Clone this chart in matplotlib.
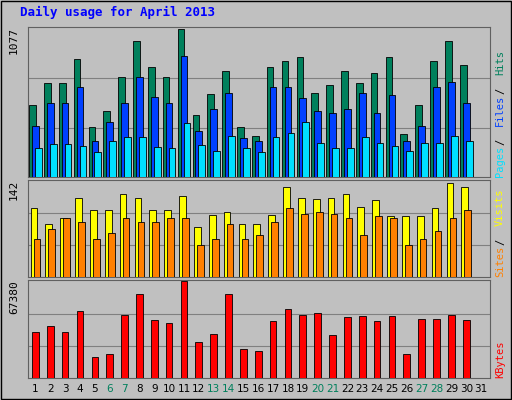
import matplotlib.pyplot as plt
import numpy as np

days = list(range(1, 32))
data_days = np.arange(1, 31)
hits = [524, 684, 684, 859, 364, 480, 728, 990, 801, 728, 1077, 451, 604, 771, 364, 298, 801, 844, 873, 611, 670, 771, 684, 757, 873, 313, 524, 844, 990, 815]
files = [371, 538, 538, 655, 262, 400, 538, 728, 582, 538, 880, 335, 495, 611, 284, 262, 655, 655, 575, 480, 466, 495, 611, 466, 597, 262, 371, 655, 691, 538]
pages = [211, 240, 240, 226, 182, 262, 291, 291, 218, 211, 393, 233, 189, 298, 211, 182, 291, 320, 400, 248, 211, 211, 291, 248, 226, 189, 248, 248, 298, 262]
visits = [102, 79, 88, 118, 100, 100, 124, 118, 100, 100, 121, 74, 92, 97, 79, 79, 92, 133, 118, 116, 118, 124, 104, 115, 91, 91, 91, 102, 139, 133]
sites = [57, 71, 88, 82, 57, 66, 88, 82, 82, 88, 88, 48, 57, 79, 56, 63, 82, 103, 94, 97, 94, 88, 63, 91, 88, 48, 57, 69, 88, 100]
kbytes = [32230, 36620, 32230, 46880, 14650, 16850, 43950, 58600, 40280, 38090, 67380, 24910, 30770, 58600, 20510, 19040, 39550, 48340, 43950, 45410, 30040, 42480, 43220, 39550, 43220, 16850, 41020, 41020, 43950, 40280]
max_top, max_mid, max_bot = 1077, 142, 67380

W, H = 512, 400
fig = plt.figure(figsize=(5.12, 4.0), dpi=100, facecolor='#C0C0C0')
fig.patches.append(plt.Rectangle((1/W, 1/H), 1-2/W, 1-2/H, transform=fig.transFigure,
                                 fill=False, edgecolor='black', linewidth=1))
fig.text(20/W, 1-12/H, 'Daily usage for April 2013', color='#0000FF', fontsize=9,
         fontweight='bold', family='DejaVu Sans Mono', va='center')

def panel(top, bottom, maxv):
    ax = fig.add_axes([28/W, 1-bottom/H, 462/W, (bottom-top)/H])
    ax.set_facecolor('#C0C0C0')
    ax.set_xlim(0.5, 31.6)
    ax.set_ylim(0, maxv*1.015)
    for f in (1/3, 2/3):
        ax.axhline(maxv*f, color='#808080', linewidth=0.8, zorder=0)
    ax.set_xticks([]); ax.set_yticks([])
    for s in ax.spines.values():
        s.set_color('#606060')
    ax.text(-0.02, 1.0, str(maxv), transform=ax.transAxes, rotation=90,
            ha='right', va='top', fontsize=8, family='DejaVu Sans Mono')
    return ax

def bars(ax, off, vals, color):
    ax.bar(data_days + off, vals, width=0.45, color=color, edgecolor='black',
           linewidth=0.6, zorder=3)

ax1 = panel(27, 177, max_top)
bars(ax1, -0.2, hits, '#00805C')
bars(ax1, 0.0, files, '#0040FF')
bars(ax1, 0.2, pages, '#00E0FF')
ax2 = panel(180, 277, max_mid)
bars(ax2, -0.1, visits, '#FFFF00')
bars(ax2, 0.1, sites, '#FF8000')
ax3 = panel(280, 378, max_bot)
bars(ax3, 0.0, kbytes, '#FF0000')

def rlabel(y, parts):
    # right-side rotated labels, drawn bottom to top
    yy = y
    for txt, col in parts:
        fig.text(500/W, yy/H, txt.strip(), color=col, rotation=90, fontsize=7.5,
                 family='DejaVu Sans Mono', ha='center', va='bottom')
        yy += len(txt)*6.4

rlabel(400-177, [('Pages', '#00E0FF'), (' / ', 'black'), ('Files', '#0040FF'), (' / ', 'black'), ('Hits', '#00805C')])
rlabel(400-277, [('Sites', '#FF8000'), (' / ', 'black'), ('Visits', '#FFFF00')])
rlabel(400-378, [('KBytes', '#FF0000')])

weekend = {6, 7, 13, 14, 20, 21, 27, 28}
for d in days:
    x = 28 + (d - 0.5) / 31.1 * 462
    fig.text(x/W, 1-389/H, str(d), ha='center', va='center', fontsize=7.5,
             color='#00805C' if d in weekend else 'black')

fig.savefig('out.png', dpi=100, facecolor=fig.get_facecolor())
